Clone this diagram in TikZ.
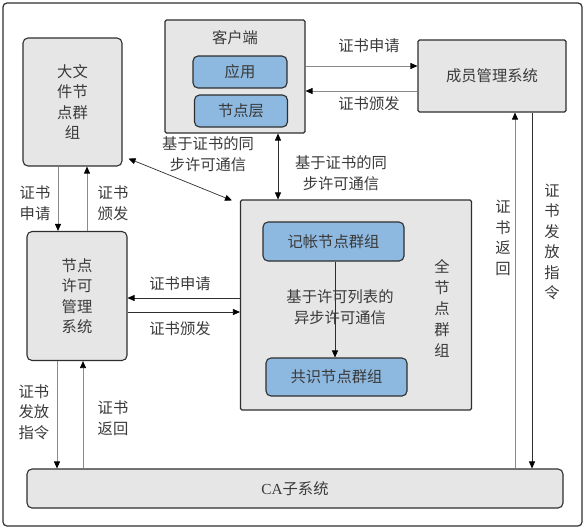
\documentclass[tikz,border=0pt]{standalone}
\usepackage{fontspec}
\setmainfont{Noto Sans CJK SC}
\newfontfamily\lserif{Liberation Serif}
\usetikzlibrary{arrows.meta}
\definecolor{boxgray}{HTML}{E6E6E6}
\definecolor{boxblue}{HTML}{8DB8DF}
\definecolor{edgec}{HTML}{2E2E2E}
\definecolor{txtc}{HTML}{3A3A3A}
\definecolor{lgray}{HTML}{8A8A8A}
\begin{document}
\begin{tikzpicture}[x=1pt,y=-1pt,
  font=\fontsize{15.3}{20.5}\selectfont, text=txtc,
  gbox/.style={draw=edgec, fill=boxgray, line width=1.1pt, rounded corners=5pt, inner sep=0pt, align=center},
  sqbox/.style={gbox, rounded corners=1.5pt},
  bbox/.style={draw=edgec, fill=boxblue, line width=1.1pt, rounded corners=5pt, inner sep=0pt, align=center},
  arr/.style={-{Triangle[length=7pt,width=6pt,color=black]}, line width=0.7pt, draw=edgec},
  garr/.style={-{Triangle[length=7pt,width=6pt,color=black]}, line width=0.8pt, draw=lgray},
  darr/.style={{Triangle[length=7pt,width=6pt,color=black]}-{Triangle[length=7pt,width=6pt,color=black]}, line width=0.7pt, draw=edgec},
  lbl/.style={align=center, inner sep=0pt}
]
\useasboundingbox (0,0) rectangle (586,531);
\node[draw=edgec, line width=1.2pt, rounded corners=4pt, minimum width=579pt, minimum height=523pt, inner sep=0pt] (frame) at (292.5,264.5) {};

% boxes
\node[gbox, minimum width=99pt, minimum height=128pt] (bigfile) at (72.5,102) {大文\\件节\\点群\\组};
\node[sqbox, minimum width=140pt, minimum height=113pt] (client) at (235,76.5) {};
\node[lbl] (clientt) at (235,38) {客户端};
\node[bbox, minimum width=94pt, minimum height=32pt] (app) at (240,72) {应用};
\node[bbox, minimum width=93pt, minimum height=32pt] (nodelayer) at (241,111) {节点层};
\node[sqbox, minimum width=148pt, minimum height=72pt] (member) at (492,76) {成员管理系统};
\node[gbox, minimum width=100pt, minimum height=129pt] (license) at (77,296) {节点\\许可\\管理\\系统};
\node[sqbox, minimum width=231pt, minimum height=210pt] (full) at (356,305) {};
\node[bbox, minimum width=141pt, minimum height=39pt] (keep) at (333.5,241.5) {记帐节点群组};
\node[bbox, minimum width=141pt, minimum height=38pt] (cons) at (336.5,377) {共识节点群组};
\node[lbl, font=\fontsize{15.3}{21}\selectfont] (fullt) at (442,308) {全\\节\\点\\群\\组};
\node[gbox, minimum width=536pt, minimum height=39pt] (ca) at (295,488.5) {{\lserif CA}子系统};

% client <-> member
\draw[garr] (client.east |- 0,66) -- (member.west |- 0,66);
\draw[garr] (member.west |- 0,91) -- (client.east |- 0,91);
\node[lbl] (l1) at (369,46) {证书申请};
\node[lbl] (l2) at (369,104) {证书颁发};

% bigfile <-> license
\draw[garr] (bigfile.south -| 58,0) -- (license.north -| 58,0);
\draw[garr] (license.north -| 87,0) -- (bigfile.south -| 87,0);
\node[lbl] (l3) at (35,203) {证书\\申请};
\node[lbl] (l4) at (113,203) {证书\\颁发};

% bigfile <-> full
\draw[darr] ([xshift=6pt,yshift=8pt]bigfile.south east) -- ([xshift=-8pt,yshift=-1pt]full.north west);
\node[lbl] (l5) at (208,154) {基于证书的同\\步许可通信};

% client <-> full
\draw[darr] (client.south -| 278,0) -- (full.north -| 278,0);
\node[lbl] (l6) at (341,173) {基于证书的同\\步许可通信};

% keep -> cons
\draw[arr] (keep.south -| 335,0) -- (cons.north -| 335,0);
\node[lbl] (l7) at (340,307) {基于许可列表的\\异步许可通信};

% license <-> full
\draw[arr] (full.west |- 0,298) -- (license.east |- 0,298);
\draw[arr] (license.east |- 0,312) -- (full.west |- 0,312);
\node[lbl] (l8) at (180,284) {证书申请};
\node[lbl] (l9) at (180,329) {证书颁发};

% license <-> ca
\draw[garr] (license.south -| 57,0) -- (ca.north -| 57,0);
\draw[garr] (ca.north -| 83,0) -- (license.south -| 83,0);
\node[lbl] (l10) at (34,412) {证书\\发放\\指令};
\node[lbl] (l11) at (113,418) {证书\\返回};

% member <-> ca
\draw[garr] (ca.north -| 515,0) -- (member.south -| 515,0);
\draw[arr] (member.south -| 532,0) -- (ca.north -| 532,0);
\node[lbl] (l12) at (503,238) {证\\书\\返\\回};
\node[lbl] (l13) at (552,242) {证\\书\\发\\放\\指\\令};
\end{tikzpicture}
\end{document}
